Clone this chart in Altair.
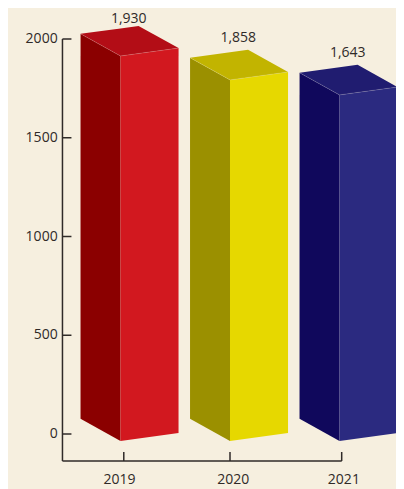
import altair as alt
import pandas as pd

years = [2019, 2020, 2021]
labels = [1930, 1858, 1643]
drawn_heights = [1949, 1828, 1752]
label_lift = [36, 62, 62]
front_fill = ["#d2181f", "#e6d800", "#2b2a80"]
side_fill = ["#8b0000", "#9b9000", "#10085c"]
top_fill = ["#b30d16", "#c2b400", "#201c70"]
y_ticks = [0, 500, 1000, 1500, 2000]
tick_years = [2019.03, 2020.0, 2021.02]
label_years = [2018.99, 2020.03, 2021.04]

# projection of the box, in data units
FACE_W = 0.53
DEPTH = 0.365
BASE = -35
DEPTH_RISE = 112
WIDTH_RISE = 40

faces, edges, texts = [], [], []
for i, yr in enumerate(years):
    h = drawn_heights[i]
    x0 = yr - DEPTH
    x1 = yr
    x2 = yr - DEPTH + FACE_W
    x3 = yr + FACE_W
    top = BASE + h
    key = str(yr)

    def add(face, col, rows):
        for x, lo, hi in rows:
            faces.append(dict(key=key + face, col=col, x=x, lo=lo, hi=hi))

    add("side", side_fill[i], [
        (x0, BASE + DEPTH_RISE, top + DEPTH_RISE),
        (x1, BASE, top),
    ])
    add("front", front_fill[i], [
        (x1, BASE, top),
        (x3, BASE + WIDTH_RISE, top + WIDTH_RISE),
    ])
    up = top + DEPTH_RISE
    lower_at_x2 = top + WIDTH_RISE * (x2 - x1) / FACE_W
    upper_at_x1 = up + WIDTH_RISE * (x1 - x0) / FACE_W
    add("top", top_fill[i], [
        (x0, up, up),
        (x1, top, upper_at_x1),
        (x2, lower_at_x2, up + WIDTH_RISE),
        (x3, top + WIDTH_RISE, top + WIDTH_RISE),
    ])
    for n, (x, y) in enumerate([(x0, up), (x1, top), (x3, top + WIDTH_RISE)]):
        edges.append(dict(key=key, n=n, x=x, y=y))
    texts.append(dict(x=yr + 0.075, y=up + WIDTH_RISE + label_lift[i], t=f"{labels[i]:,}"))

faces = pd.DataFrame(faces)
edges = pd.DataFrame(edges)
texts = pd.DataFrame(texts)

W, H = 388, 481
X_DOM = [2020 + (8 - 230) / 109.5, 2020 + (8 + W - 230) / 109.5]
Y_DOM = [(434 - 8 - H) / 0.1975, (434 - 8) / 0.1975]
xs = alt.Scale(domain=X_DOM, nice=False, zero=False)
ys = alt.Scale(domain=Y_DOM, nice=False, zero=False)
X = lambda f="x": alt.X(f"{f}:Q", scale=xs, axis=None)
Y = lambda f="y": alt.Y(f"{f}:Q", scale=ys, axis=None)

FONT = "Open Sans"
FS = 14
INK = "#2f2a28"
AX_X = 2018.470
AX_BOTTOM = -137
TICK_END = 2018.552

area_layers = [
    alt.Chart(faces[faces.key == k]).mark_area(interpolate="linear", color=g.col.iloc[0]).encode(
        x=X(),
        y=alt.Y("lo:Q", scale=ys, axis=None, stack=None),
        y2="hi:Q",
    )
    for k, g in faces.groupby("key", sort=False)
]
edge = alt.Chart(edges).mark_line(color="#ffffff", strokeWidth=0.6, opacity=0.25).encode(
    x=X(), y=Y(), detail="key:N", order="n:Q"
)
value_text = alt.Chart(texts).mark_text(font=FONT, fontSize=FS, color=INK, align="center", baseline="middle").encode(
    x=X(), y=Y(), text="t:N"
)

ydf = pd.DataFrame({"v": y_ticks, "x": AX_X, "x2": TICK_END, "lx": AX_X - 0.044})
y_tick = alt.Chart(ydf).mark_rule(color=INK, strokeWidth=1.5).encode(
    x=X(), x2="x2:Q", y=Y("v")
)
y_text = alt.Chart(ydf).mark_text(font=FONT, fontSize=FS, color=INK, align="right", baseline="middle").encode(
    x=X("lx"), y=Y("v"), text="v:Q"
)
y_dom = alt.Chart(pd.DataFrame({"x": [AX_X], "y": [2000], "y2": [AX_BOTTOM]})).mark_rule(color=INK, strokeWidth=1.5).encode(
    x=X(), y=Y(), y2="y2:Q"
)
x_dom = alt.Chart(pd.DataFrame({"x": [AX_X], "x2": [tick_years[-1]], "y": [AX_BOTTOM]})).mark_rule(color=INK, strokeWidth=1.5).encode(
    x=X(), x2="x2:Q", y=Y()
)
xdf = pd.DataFrame({"x": tick_years, "y": AX_BOTTOM, "y2": AX_BOTTOM + 46})
x_tick = alt.Chart(xdf).mark_rule(color=INK, strokeWidth=1.5).encode(
    x=X(), y=Y(), y2="y2:Q"
)
ldf = pd.DataFrame({"x": label_years, "y": -233, "t": [str(y) for y in years]})
x_text = alt.Chart(ldf).mark_text(font=FONT, fontSize=FS, color=INK, align="center", baseline="middle").encode(
    x=X(), y=Y(), text="t:N"
)

chart = alt.layer(*area_layers, edge, value_text, y_dom, x_dom, y_tick, x_tick, y_text, x_text).properties(
    width=W, height=H, background="#f6efdf",
    padding=0, autosize=alt.AutoSizeParams(type="none"),
).configure_view(stroke=None)

chart.save("out.html", embed_options={"renderer": "svg", "actions": False})
